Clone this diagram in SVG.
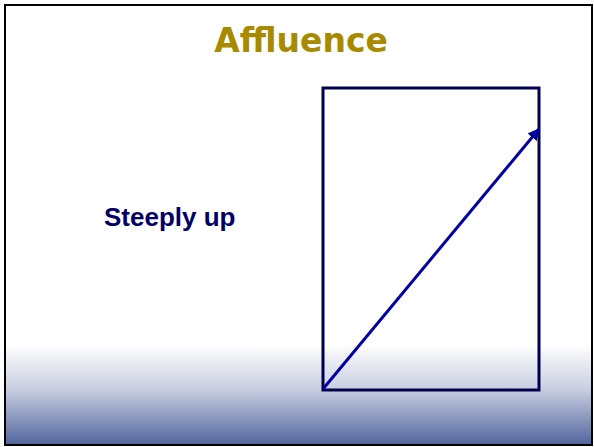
<svg xmlns="http://www.w3.org/2000/svg" width="594" height="447" viewBox="0 0 594 447">
<defs>
<linearGradient id="bg" x1="0" y1="0" x2="0" y2="447" gradientUnits="userSpaceOnUse">
<stop offset="0" stop-color="#ffffff"/>
<stop offset="0.77" stop-color="#ffffff"/>
<stop offset="0.87" stop-color="#c9cfe1"/>
<stop offset="1" stop-color="#4c609a"/>
</linearGradient>
<marker id="ah" viewBox="0 0 10 10" refX="9" refY="5" markerWidth="4" markerHeight="4" orient="auto" markerUnits="strokeWidth">
<path d="M0,0 L10,5 L0,10 Z" fill="#0000a0"/>
</marker>
<style>
.title{font-family:"DejaVu Sans",Verdana,sans-serif;font-weight:bold;font-size:33px;fill:#a88a00}
.label{font-family:"Liberation Sans",Arial,sans-serif;font-weight:bold;font-size:26px;fill:#000066}
</style>
</defs>
<rect x="5" y="5" width="587" height="440" fill="url(#bg)" stroke="#000" stroke-width="2"/>
<g id="title"><text class="title" x="301" y="52" text-anchor="middle">Affluence</text></g>
<g id="label"><text class="label" x="104" y="226">Steeply up</text></g>
<g id="box"><rect x="323" y="88" width="216" height="302" fill="none" stroke="#000050" stroke-width="3"/></g>
<g id="connectors"><line x1="323" y1="389" x2="539" y2="129" stroke="#0000a0" stroke-width="3" marker-end="url(#ah)"/></g>
</svg>
